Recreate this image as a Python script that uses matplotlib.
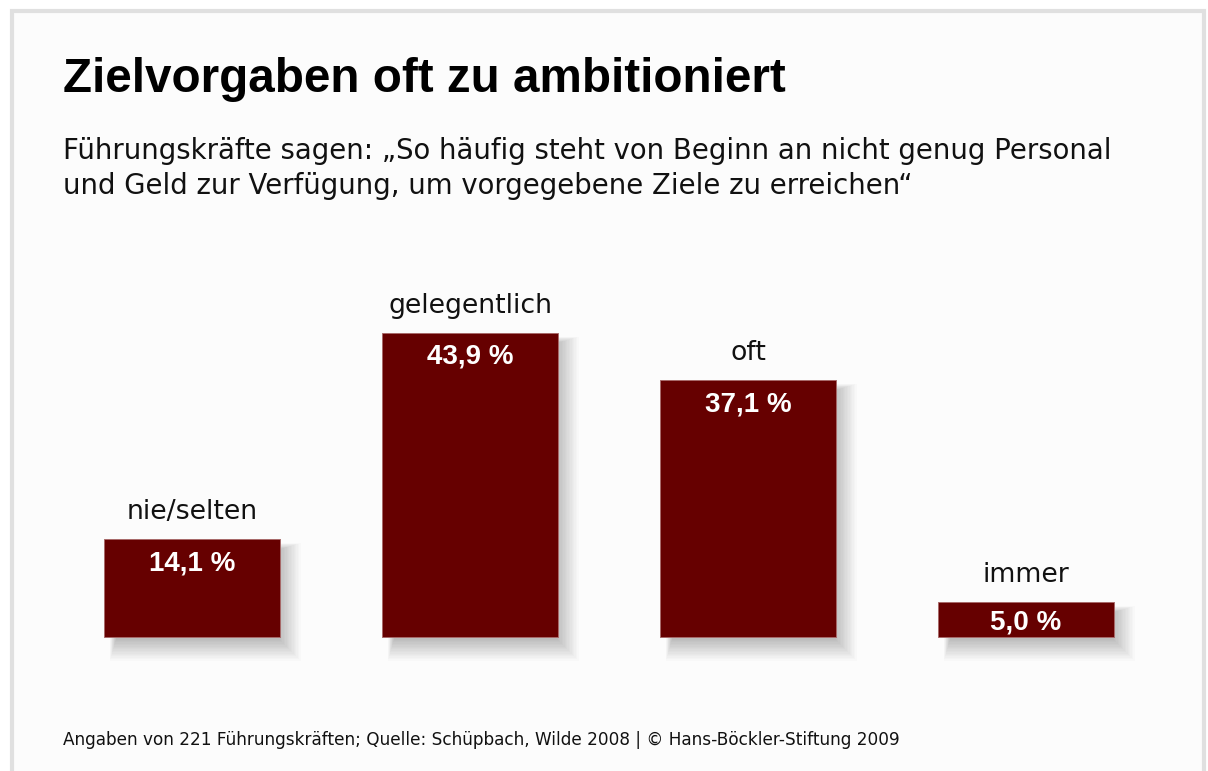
import matplotlib.pyplot as plt
from matplotlib.patches import Rectangle

# Data
categories = ["nie/selten", "gelegentlich", "oft", "immer"]
values = [14.1, 43.9, 37.1, 5.0]
value_labels = ["14,1 %", "43,9 %", "37,1 %", "5,0 %"]

title = "Zielvorgaben oft zu ambitioniert"
subtitle_lines = ["Führungskräfte sagen: „So häufig steht von Beginn an nicht genug Personal",
                  "und Geld zur Verfügung, um vorgegebene Ziele zu erreichen“"]
footer = "Angaben von 221 Führungskräften; Quelle: Schüpbach, Wilde 2008 | © Hans-Böckler-Stiftung 2009"

W, H = 1208, 771
plt.rcParams['font.family'] = ['DejaVu Sans']

fig = plt.figure(figsize=(W / 100, H / 100), dpi=100)
fig.patch.set_facecolor("white")

# light grey frame round the panel
frame = Rectangle((11.5 / W, -0.05), (1203.5 - 11.5) / W, 1 - 11.5 / H + 0.05,
                  transform=fig.transFigure, facecolor="#fcfcfc",
                  edgecolor="#e0e0e0", linewidth=3, zorder=-5)
fig.patches.append(frame)

ax = fig.add_axes([0, 0, 1, 1])
ax.set_facecolor("none")
px_x = 278.0          # pixels per category step
px_y = 6.925          # pixels per percent
ax.set_xlim(-192 / px_x, (W - 192) / px_x)
ax.set_ylim(-134 / px_y, (H - 134) / px_y)
ax.axis("off")

x = range(len(categories))
bars = ax.bar(x, values, width=176 / px_x, color="#660000", edgecolor="#a86a6a",
              linewidth=0.7, zorder=3)

# soft drop shadow, growing only towards the lower right
for b in bars:
    x0, w, h = b.get_x(), b.get_width(), b.get_height()
    for k in range(20):
        s = -6 + k * 1.4          # spread in pixels
        left = x0 + (12 - 0.3 * s) / px_x
        right = x0 + w + s / px_x
        top = h - (10 - 0.3 * s) / px_y
        bottom = -(3 + s) / px_y
        ax.add_patch(Rectangle((left, bottom), right - left, top - bottom,
                               facecolor="#000000", alpha=0.017, edgecolor="none", zorder=2))

for b, cat, lab in zip(bars, categories, value_labels):
    cx = b.get_x() + b.get_width() / 2
    top = b.get_height()
    ax.text(cx, top + 20 / px_y, cat, ha="center", va="baseline", fontsize=19.3, color="#111111")
    off = min(31, top * px_y / 2 + 9.5)
    ax.text(cx, top - off / px_y, lab, ha="center", va="baseline", fontsize=20,
            fontweight="bold", color="white", family="Liberation Sans", zorder=4)

fig.text(63 / W, 1 - 92 / H, title, ha="left", va="baseline", fontsize=34.3,
         fontweight="bold", color="black", family="Liberation Sans")
for i, line in enumerate(subtitle_lines):
    fig.text(63 / W, 1 - (159 + 35 * i) / H, line, ha="left", va="baseline", fontsize=19.8,
             color="#111111")
fig.text(63 / W, 1 - 745 / H, footer, ha="left", va="baseline", fontsize=12.15, color="#111111")

fig.savefig("out.png", dpi=100)
